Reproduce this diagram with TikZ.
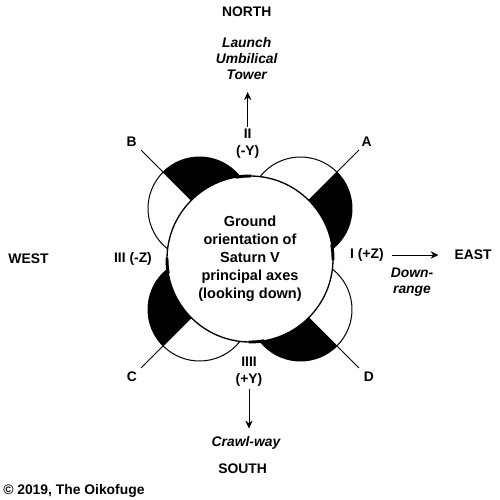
\documentclass[tikz,border=0pt]{standalone}
\usepackage{fontspec}
\setmainfont{Liberation Sans}
\usetikzlibrary{arrows.meta}
\tikzset{
	lbl/.style={inner sep=0.75pt,align=center,font=\fontsize{10.4}{12.8}\selectfont\bfseries},
	note/.style={lbl,font=\fontsize{10.4}{12}\selectfont\bfseries\itshape},
	axisarrow/.style={line width=0.75,-{Stealth[length=6pt,width=5.5pt]}},
	lobe/.style={line width=0.75},
}
\begin{document}
\begin{tikzpicture}[x=0.75pt,y=0.75pt,yscale=-1,xscale=1]
	\path[use as bounding box] (0,0) rectangle (500,500);
	%Fins: white half of lobe, black half, line out to the letter
	\foreach \ang/\name in {-45/A,-135/B,135/C,45/D}{
		\begin{scope}[shift={(250,259)},rotate=\ang]
			\draw[lobe,fill=white] (71.4,0) circle (51.5);
			\begin{scope}
				\clip (0,0) rectangle (200,200);
				\fill[black] (71.4,0) circle (51.5);
			\end{scope}
			\coordinate (fin\name) at (83,0);
			\coordinate (tip\name) at (154,0);
		\end{scope}
		\draw[lobe] (fin\name) -- (tip\name);
	}
	%Shape: Circle
	\draw[line width=1,fill=white] (250,259) circle (83);
	%Thick marks on the principal axes
	\foreach \ang in {0,90,180,270}{
		\draw[line width=2.2] ({250+83*cos(\ang-10)},{259+83*sin(\ang-10)}) arc[start angle=\ang-10,end angle=\ang+1,radius=83];
	}

	% Text Node
	\node[lbl] (north) at (246.7,12) {NORTH};
	\node[lbl] (south) at (242.7,469) {SOUTH};
	\node[lbl] (west) at (28.5,259) {WEST};
	\node[lbl] (east) at (473,255) {EAST};
	\node[lbl,font=\fontsize{10.9}{13.6}\selectfont\bfseries] (center) at (250,259) {Ground\\orientation of\\Saturn V\\principal axes\\(looking down)};
	\node[note] (tower) at (246.7,59) {Launch\\Umbilical\\Tower};
	\node[note] (way) at (246,443) {Crawl-way};
	\node[note] (range) at (412,282) {Down-\\range};
	\node[lbl] (axisII) at (247.7,144) {II\\(-Y)};
	\node[lbl] (axisIIII) at (249,372) {IIII\\(+Y)};
	\node[lbl] (axisIII) at (133,259) {III (-Z)};
	\node[lbl] (axisI) at (367,255) {I (+Z)};
	\node[lbl] (labelA) at (366.7,142) {A};
	\node[lbl] (labelB) at (131.7,142) {B};
	\node[lbl] (labelC) at (132,377) {C};
	\node[lbl] (labelD) at (369,377) {D};
	\node[inner sep=0.75pt,anchor=west,font=\fontsize{10.4}{12}\selectfont\bfseries] (copy) at (2,491) {© 2019, The Oikofuge};

	%Straight Lines
	\draw[axisarrow,shorten >=8,shorten <=1] (axisII.north) -- (axisII.north |- tower.south);
	\draw[axisarrow,shorten >=5,shorten <=1] (axisIIII.south) -- (axisIIII.south |- way.north);
	\draw[axisarrow,shorten >=11,shorten <=5] (axisI.east) -- (east.west);
\end{tikzpicture}
\end{document}
